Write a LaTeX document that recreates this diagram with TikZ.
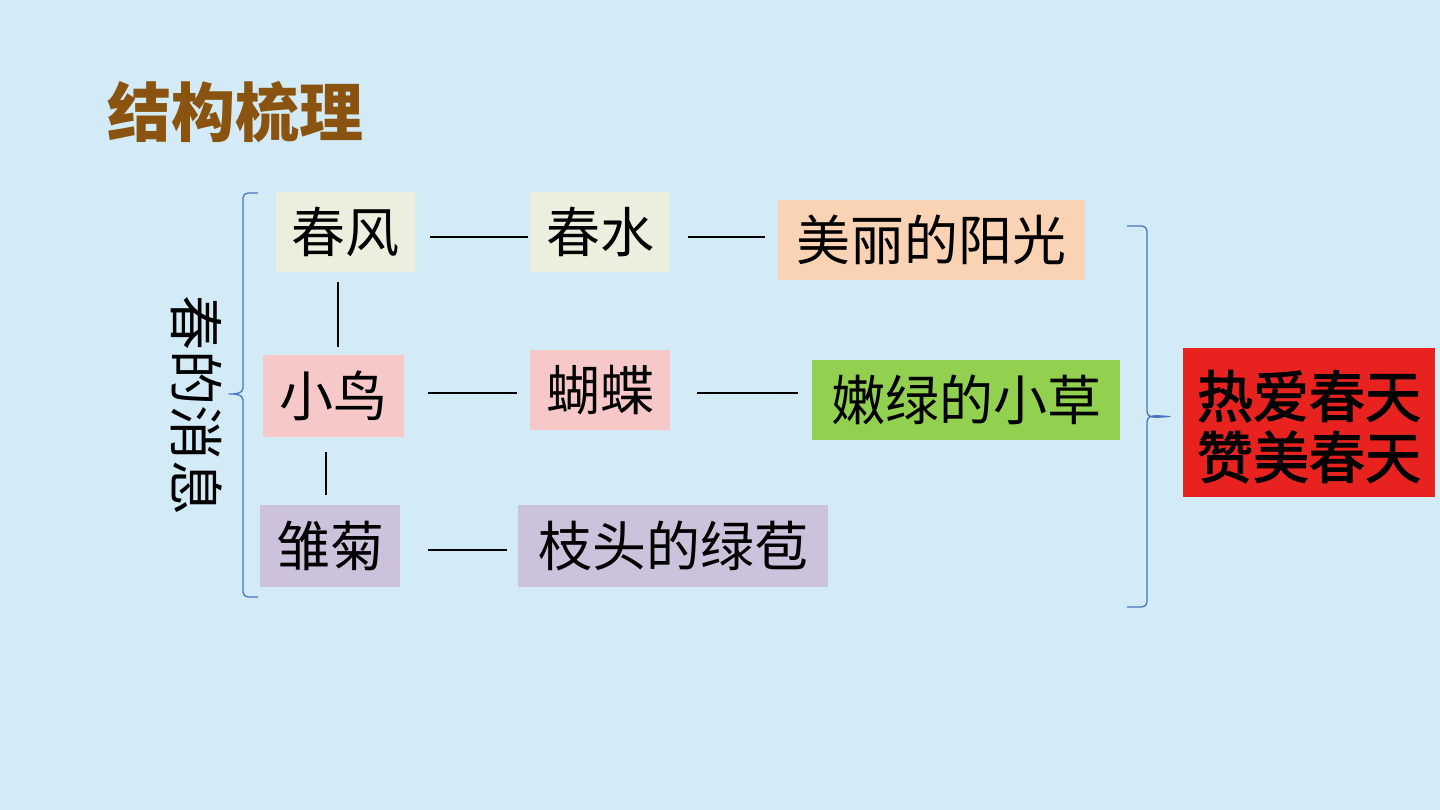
\documentclass[tikz,border=0pt]{standalone}
\usepackage{fontspec}
\newfontfamily\cjk{Noto Sans CJK SC}
\newfontfamily\cjkheavy[FakeBold=2.2]{Noto Sans CJK SC}
\usetikzlibrary{calc}
\definecolor{bg}{HTML}{D2EBF7}
\definecolor{titlebrown}{HTML}{8A5410}
\definecolor{beige}{HTML}{EBEFDE}
\definecolor{peach}{HTML}{FAD2B4}
\definecolor{pink}{HTML}{F7C8C8}
\definecolor{lgreen}{HTML}{92D050}
\definecolor{lavender}{HTML}{CDC2DB}
\definecolor{redbox}{HTML}{E8231F}
\definecolor{braceblue}{HTML}{4A74C0}
\begin{document}
\begin{tikzpicture}[x=1pt,y=-1pt,
  box/.style={inner sep=0pt, minimum height=80pt, font=\cjk\fontsize{54}{60}\selectfont, text=black},
  conn/.style={line width=2.5pt, black},
  bracestyle/.style={draw=braceblue, line width=1.3pt, line join=round}]
\useasboundingbox (0,0) rectangle (1440,810);
\fill[bg] (0,0) rectangle (1440,810);

% title
\node[font=\cjk\bfseries\fontsize{64}{70}\selectfont, text=titlebrown] (title) at (235,112) {结构梳理};

% side label
\node[rotate=-90, font=\cjk\fontsize{55}{60}\selectfont] (label) at (197,405) {春的消息};

% row 1
\node[box, fill=beige, minimum width=139pt] (fb) at (345.5,232) {春风};
\node[box, fill=beige, minimum width=140pt] (sw) at (600,232) {春水};
\node[box, fill=peach, minimum width=307pt] (yg) at (931.5,240) {美丽的阳光};
% row 2
\node[box, fill=pink, minimum width=141pt, minimum height=82pt] (xn) at (333.5,396) {小鸟};
\node[box, fill=pink, minimum width=140pt] (hd) at (600,390) {蝴蝶};
\node[box, fill=lgreen, minimum width=308pt] (xc) at (966,400) {嫩绿的小草};
% row 3
\node[box, fill=lavender, minimum width=140pt, minimum height=82pt] (cj) at (330,546) {雏菊};
\node[box, fill=lavender, minimum width=310pt, minimum height=82pt] (lb) at (673,546) {枝头的绿苞};

% conclusion
\node[fill=redbox, minimum width=252pt, minimum height=149pt, inner sep=0pt] (red) at (1309,422.5) {};
\node[font=\cjkheavy\fontsize{56}{61}\selectfont, align=center, inner sep=0pt] (redtext) at ([yshift=-4pt]red.center) {热爱春天\\赞美春天};

% connectors
\draw[conn] ([xshift=15pt,yshift=-5pt]fb.east) -- ([xshift=-2pt,yshift=-5pt]sw.west);
\draw[conn] ([xshift=18pt,yshift=-5pt]sw.east) -- ([xshift=-13pt,yshift=3pt]yg.west);
\draw[conn] ([xshift=24pt,yshift=3pt]xn.east) -- ([xshift=-13pt,yshift=-3pt]hd.west);
\draw[conn] ([xshift=27pt,yshift=-3pt]hd.east) -- ([xshift=-14pt,yshift=7pt]xc.west);
\draw[conn] ([xshift=28pt,yshift=-4pt]cj.east) -- ([xshift=-11pt,yshift=-4pt]lb.west);
\draw[conn] ([xshift=-7.5pt,yshift=-10pt]fb.south) -- ([xshift=4.5pt,yshift=8pt]xn.north);
\draw[conn] ([xshift=-7.5pt,yshift=-15pt]xn.south) -- ([xshift=-4pt,yshift=10pt]cj.north);

% left brace
\draw[bracestyle] (258,193) -- (248,193) to[out=180,in=90] (243,198) -- (243,388)
  to[out=-90,in=0] (229,394) to[out=0,in=90] (243,400) -- (243,592)
  to[out=-90,in=180] (248,597) -- (258,597);
% right brace
\draw[bracestyle] (1127,226) -- (1142,226) to[out=0,in=90] (1147,231) -- (1147,411)
  to[out=-90,in=180] (1170,416.5) to[out=180,in=90] (1147,422) -- (1147,602)
  to[out=-90,in=0] (1142,607) -- (1127,607);
\end{tikzpicture}
\end{document}
